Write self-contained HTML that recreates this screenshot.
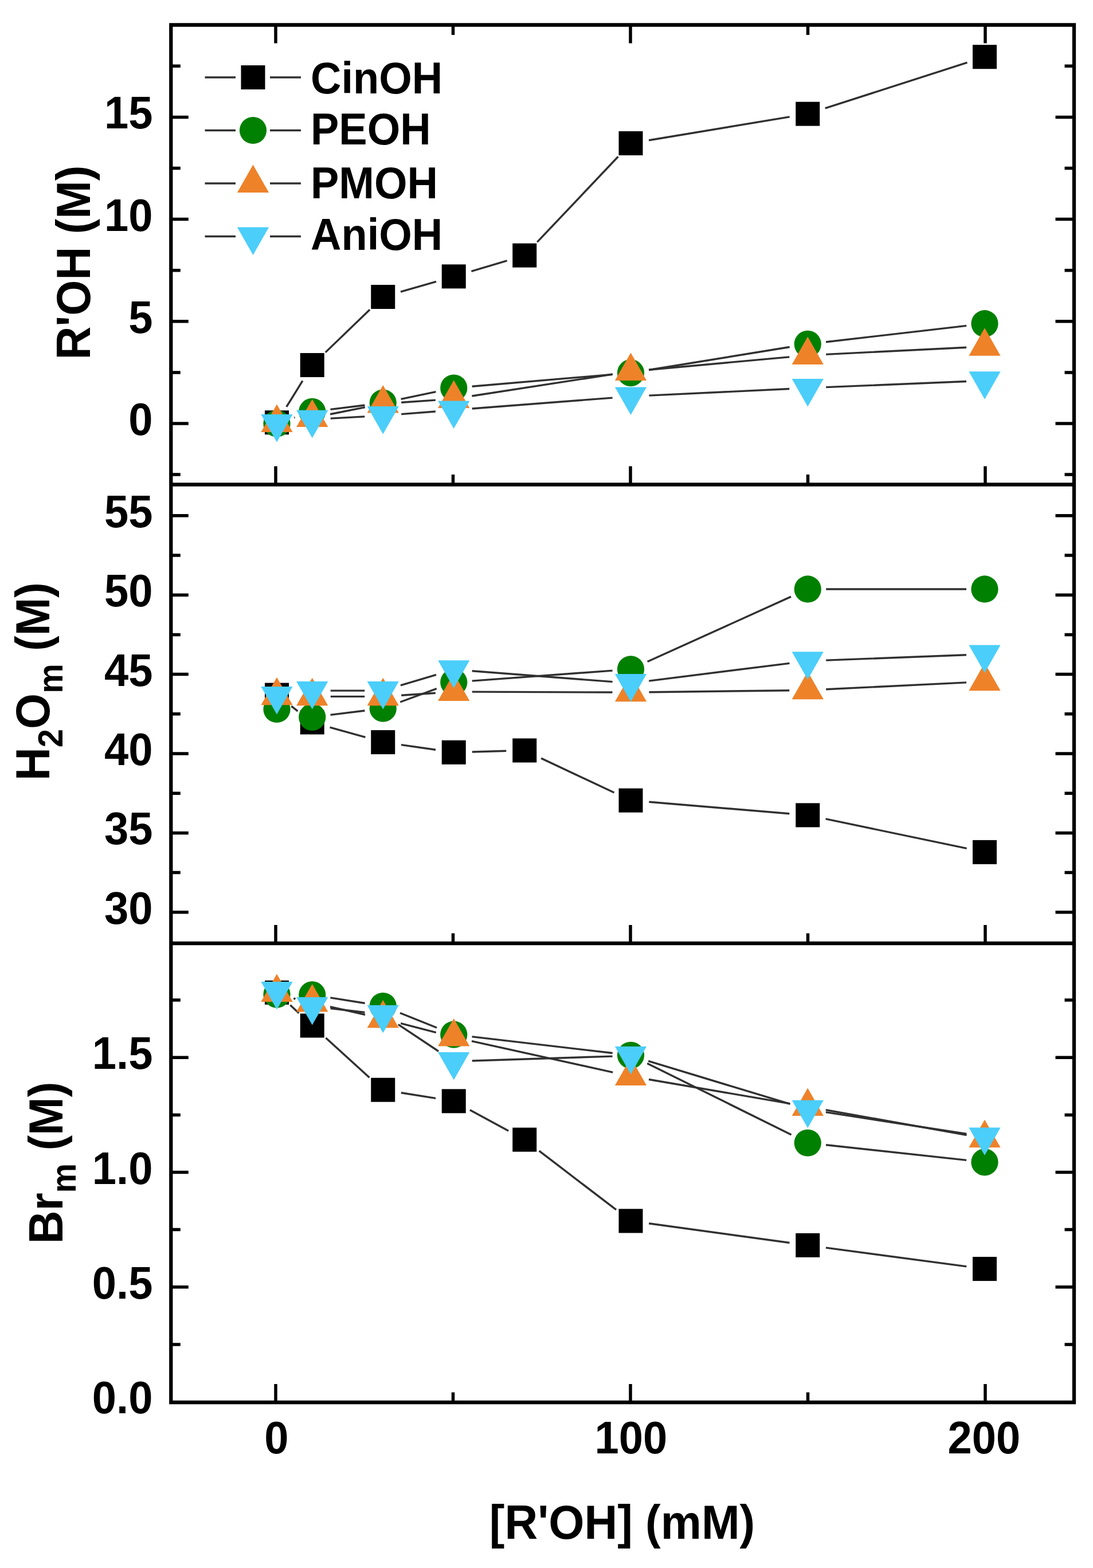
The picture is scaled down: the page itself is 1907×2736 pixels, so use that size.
<!DOCTYPE html>
<html><head><meta charset="utf-8"><title>R'OH plot</title>
<style>html,body{margin:0;padding:0;background:#fff;}svg{display:block;}text{font-family:'Liberation Sans', Arial, sans-serif;font-weight:bold;fill:#000;}</style>
</head><body>
<svg width="1907" height="2736" viewBox="0 0 1907 2736">
<rect width="1907" height="2736" fill="#fff"/>
<path d="M499.79 709.98L527.96 664.31M567.79 614.86L645.21 540.24M699 509.16L761 491.26M822.42 473.27L884.58 454.8M937.25 422.45L1078.5 273.26M1132.07 244.77L1377.68 203.94M1439.71 188.89L1687.54 109.07" stroke="#303030" stroke-width="3.4" fill="none"/>
<rect x="462" y="716.22" width="42" height="42" fill="#000000"/>
<rect x="523.75" y="616.07" width="42" height="42" fill="#000000"/>
<rect x="647.25" y="497.03" width="42" height="42" fill="#000000"/>
<rect x="770.75" y="461.39" width="42" height="42" fill="#000000"/>
<rect x="894.25" y="424.68" width="42" height="42" fill="#000000"/>
<rect x="1079.5" y="229.02" width="42" height="42" fill="#000000"/>
<rect x="1388.25" y="177.7" width="42" height="42" fill="#000000"/>
<rect x="1697" y="78.26" width="42" height="42" fill="#000000"/>
<path d="M513.34 728.84L514.41 728.49M576.51 714.39L636.49 706.94M699.56 696.41L760.44 683.58M823.63 674.26L1068.62 653.34M1132.08 645.47L1377.67 605.5M1441.04 596.69L1686.21 568.39" stroke="#303030" stroke-width="3.4" fill="none"/>
<circle cx="483" cy="739" r="23.6" fill="#008000"/>
<circle cx="544.75" cy="718.33" r="23.6" fill="#008000"/>
<circle cx="668.25" cy="703" r="23.6" fill="#008000"/>
<circle cx="791.75" cy="676.99" r="23.6" fill="#008000"/>
<circle cx="1100.5" cy="650.61" r="23.6" fill="#008000"/>
<circle cx="1409.25" cy="600.36" r="23.6" fill="#008000"/>
<circle cx="1718" cy="564.72" r="23.6" fill="#008000"/>
<path d="M576.13 722.77L636.87 710.68M700.17 702.22L759.83 698.09M823.37 690.98L1068.88 653.01M1132.37 645.21L1377.38 622.87M1441.21 618.38L1686.04 606.22" stroke="#303030" stroke-width="3.4" fill="none"/>
<polygon points="483,705.43 510.6,753.93 455.4,753.93" fill="#EE8229"/>
<polygon points="544.75,696.52 572.35,745.02 517.15,745.02" fill="#EE8229"/>
<polygon points="668.25,671.93 695.85,720.43 640.65,720.43" fill="#EE8229"/>
<polygon points="791.75,663.38 819.35,711.88 764.15,711.88" fill="#EE8229"/>
<polygon points="1100.5,615.62 1128.1,664.12 1072.9,664.12" fill="#EE8229"/>
<polygon points="1409.25,587.46 1436.85,635.96 1381.65,635.96" fill="#EE8229"/>
<polygon points="1718,572.14 1745.6,620.64 1690.4,620.64" fill="#EE8229"/>
<path d="M576.7 730.12L636.3 726.85M700.15 722.61L759.85 717.96M823.65 713.01L1068.6 694.07M1132.46 690.09L1377.29 678.5M1441.22 675.66L1686.03 665.48" stroke="#303030" stroke-width="3.4" fill="none"/>
<polygon points="455.4,723 510.6,723 483,771.5" fill="#4BCEFA"/>
<polygon points="517.15,715.87 572.35,715.87 544.75,764.37" fill="#4BCEFA"/>
<polygon points="640.65,709.1 695.85,709.1 668.25,757.6" fill="#4BCEFA"/>
<polygon points="764.15,699.48 819.35,699.48 791.75,747.98" fill="#4BCEFA"/>
<polygon points="1072.9,675.6 1128.1,675.6 1100.5,724.1" fill="#4BCEFA"/>
<polygon points="1381.65,660.99 1436.85,660.99 1409.25,709.49" fill="#4BCEFA"/>
<polygon points="1690.4,648.16 1745.6,648.16 1718,696.66" fill="#4BCEFA"/>
<path d="M508.29 1232.19L519.46 1240.86M575.56 1269.1L637.44 1286.44M699.93 1299.61L760.07 1308.24M823.74 1311.93L883.26 1310.32M944.2 1323.09L1071.55 1383.03M1132.39 1399.31L1377.36 1419.74M1440.57 1428.94L1686.68 1480.35" stroke="#303030" stroke-width="3.4" fill="none"/>
<rect x="462" y="1191.58" width="42" height="42" fill="#000000"/>
<rect x="523.75" y="1239.47" width="42" height="42" fill="#000000"/>
<rect x="647.25" y="1274.07" width="42" height="42" fill="#000000"/>
<rect x="770.75" y="1291.79" width="42" height="42" fill="#000000"/>
<rect x="894.25" y="1288.46" width="42" height="42" fill="#000000"/>
<rect x="1079.5" y="1375.66" width="42" height="42" fill="#000000"/>
<rect x="1388.25" y="1401.4" width="42" height="42" fill="#000000"/>
<rect x="1697" y="1465.89" width="42" height="42" fill="#000000"/>
<path d="M576.51 1247.42L636.49 1240.03M698.26 1225.01L761.74 1201.54M823.66 1188.09L1068.59 1170.09M1129.65 1154.54L1380.1 1041.16M1441.25 1027.96L1686 1027.96" stroke="#303030" stroke-width="3.4" fill="none"/>
<circle cx="483" cy="1237.5" r="23.6" fill="#008000"/>
<circle cx="544.75" cy="1251.34" r="23.6" fill="#008000"/>
<circle cx="668.25" cy="1236.11" r="23.6" fill="#008000"/>
<circle cx="791.75" cy="1190.44" r="23.6" fill="#008000"/>
<circle cx="1100.5" cy="1167.74" r="23.6" fill="#008000"/>
<circle cx="1409.25" cy="1027.96" r="23.6" fill="#008000"/>
<circle cx="1718" cy="1027.96" r="23.6" fill="#008000"/>
<path d="M576.75 1215.35L636.25 1215.35M700.18 1213.21L759.82 1209.19M823.75 1207.16L1068.5 1208.04M1132.5 1207.75L1377.25 1204.68M1441.21 1202.73L1686.04 1190.88" stroke="#303030" stroke-width="3.4" fill="none"/>
<polygon points="483,1181.74 510.6,1230.24 455.4,1230.24" fill="#EE8229"/>
<polygon points="544.75,1182.85 572.35,1231.35 517.15,1231.35" fill="#EE8229"/>
<polygon points="668.25,1182.85 695.85,1231.35 640.65,1231.35" fill="#EE8229"/>
<polygon points="791.75,1174.55 819.35,1223.05 764.15,1223.05" fill="#EE8229"/>
<polygon points="1100.5,1175.66 1128.1,1224.16 1072.9,1224.16" fill="#EE8229"/>
<polygon points="1409.25,1171.78 1436.85,1220.28 1381.65,1220.28" fill="#EE8229"/>
<polygon points="1718,1156.83 1745.6,1205.33 1690.4,1205.33" fill="#EE8229"/>
<path d="M576.75 1205.11L636.25 1205.11M698.92 1195.97L761.08 1177.44M823.66 1170.76L1068.59 1189.64M1132.25 1188.12L1377.5 1157.33M1441.23 1152.12L1686.02 1142.68" stroke="#303030" stroke-width="3.4" fill="none"/>
<polygon points="455.4,1197.97 510.6,1197.97 483,1246.47" fill="#4BCEFA"/>
<polygon points="517.15,1189.11 572.35,1189.11 544.75,1237.61" fill="#4BCEFA"/>
<polygon points="640.65,1189.11 695.85,1189.11 668.25,1237.61" fill="#4BCEFA"/>
<polygon points="764.15,1152.3 819.35,1152.3 791.75,1200.8" fill="#4BCEFA"/>
<polygon points="1072.9,1176.1 1128.1,1176.1 1100.5,1224.6" fill="#4BCEFA"/>
<polygon points="1381.65,1137.35 1436.85,1137.35 1409.25,1185.85" fill="#4BCEFA"/>
<polygon points="1690.4,1125.45 1745.6,1125.45 1718,1173.95" fill="#4BCEFA"/>
<path d="M506.39 1753.75L521.36 1767.74M568.44 1811.09L644.56 1880.21M699.85 1906.74L760.15 1916.32M819.85 1936.65L887.15 1973.32M940.66 2008.08L1075.09 2110.96M1132.2 2134.76L1377.55 2168.5M1440.97 2177.1L1686.28 2209.87" stroke="#303030" stroke-width="3.4" fill="none"/>
<rect x="462" y="1710.91" width="42" height="42" fill="#000000"/>
<rect x="523.75" y="1768.58" width="42" height="42" fill="#000000"/>
<rect x="647.25" y="1880.72" width="42" height="42" fill="#000000"/>
<rect x="770.75" y="1900.35" width="42" height="42" fill="#000000"/>
<rect x="894.25" y="1967.63" width="42" height="42" fill="#000000"/>
<rect x="1079.5" y="2109.41" width="42" height="42" fill="#000000"/>
<rect x="1388.25" y="2151.86" width="42" height="42" fill="#000000"/>
<rect x="1697" y="2193.11" width="42" height="42" fill="#000000"/>
<path d="M576.35 1740.94L636.65 1750.52M697.94 1767.48L762.06 1793.26M823.53 1808.91L1068.72 1837.53M1129.17 1855.45L1380.58 1980.03M1441.06 1997.7L1686.19 2024.41" stroke="#303030" stroke-width="3.4" fill="none"/>
<circle cx="483" cy="1735.11" r="23.6" fill="#008000"/>
<circle cx="544.75" cy="1735.91" r="23.6" fill="#008000"/>
<circle cx="668.25" cy="1755.54" r="23.6" fill="#008000"/>
<circle cx="791.75" cy="1805.2" r="23.6" fill="#008000"/>
<circle cx="1100.5" cy="1841.24" r="23.6" fill="#008000"/>
<circle cx="1409.25" cy="1994.24" r="23.6" fill="#008000"/>
<circle cx="1718" cy="2027.88" r="23.6" fill="#008000"/>
<path d="M575.96 1756.61L637.04 1770.48M699.22 1785.6L760.78 1801.57M822.99 1816.54L1069.26 1871.16M1132.04 1883.49L1377.71 1925.56M1440.75 1936.6L1686.5 1980.59" stroke="#303030" stroke-width="3.4" fill="none"/>
<polygon points="483,1699.41 510.6,1747.91 455.4,1747.91" fill="#EE8229"/>
<polygon points="544.75,1717.03 572.35,1765.53 517.15,1765.53" fill="#EE8229"/>
<polygon points="668.25,1745.07 695.85,1793.57 640.65,1793.57" fill="#EE8229"/>
<polygon points="791.75,1777.11 819.35,1825.61 764.15,1825.61" fill="#EE8229"/>
<polygon points="1100.5,1845.59 1128.1,1894.09 1072.9,1894.09" fill="#EE8229"/>
<polygon points="1409.25,1898.46 1436.85,1946.96 1381.65,1946.96" fill="#EE8229"/>
<polygon points="1718,1953.73 1745.6,2002.23 1690.4,2002.23" fill="#EE8229"/>
<path d="M512.35 1741.86L515.4 1743.18M576.55 1759.55L636.45 1766.35M694.9 1787.67L765.1 1834.34M823.73 1851.02L1068.52 1843.08M1131.12 1851.34L1378.63 1926.47M1440.88 1940.64L1686.37 1978.54" stroke="#303030" stroke-width="3.4" fill="none"/>
<polygon points="455.4,1713.11 510.6,1713.11 483,1761.61" fill="#4BCEFA"/>
<polygon points="517.15,1739.94 572.35,1739.94 544.75,1788.44" fill="#4BCEFA"/>
<polygon points="640.65,1753.96 695.85,1753.96 668.25,1802.46" fill="#4BCEFA"/>
<polygon points="764.15,1836.06 819.35,1836.06 791.75,1884.56" fill="#4BCEFA"/>
<polygon points="1072.9,1826.05 1128.1,1826.05 1100.5,1874.55" fill="#4BCEFA"/>
<polygon points="1381.65,1919.76 1436.85,1919.76 1409.25,1968.26" fill="#4BCEFA"/>
<polygon points="1690.4,1967.42 1745.6,1967.42 1718,2015.92" fill="#4BCEFA"/>
<path d="M298.3 828.1H314.8M1874 828.1H1857.5M298.3 739H328.8M1874 739H1841.5M298.3 649.9H314.8M1874 649.9H1857.5M298.3 560.8H328.8M1874 560.8H1841.5M298.3 471.7H314.8M1874 471.7H1857.5M298.3 382.6H328.8M1874 382.6H1841.5M298.3 293.5H314.8M1874 293.5H1857.5M298.3 204.4H328.8M1874 204.4H1841.5M298.3 115.3H314.8M1874 115.3H1857.5M298.3 1591.8H328.8M1874 1591.8H1841.5M298.3 1522.6H314.8M1874 1522.6H1857.5M298.3 1453.4H328.8M1874 1453.4H1841.5M298.3 1384.2H314.8M1874 1384.2H1857.5M298.3 1315H328.8M1874 1315H1841.5M298.3 1245.8H314.8M1874 1245.8H1857.5M298.3 1176.6H328.8M1874 1176.6H1841.5M298.3 1107.4H314.8M1874 1107.4H1857.5M298.3 1038.2H328.8M1874 1038.2H1841.5M298.3 969H314.8M1874 969H1857.5M298.3 899.8H328.8M1874 899.8H1841.5M298.3 2345.88H314.8M1874 2345.88H1857.5M298.3 2245.75H328.8M1874 2245.75H1841.5M298.3 2145.62H314.8M1874 2145.62H1857.5M298.3 2045.5H328.8M1874 2045.5H1841.5M298.3 1945.38H314.8M1874 1945.38H1857.5M298.3 1845.25H328.8M1874 1845.25H1841.5M298.3 1745.12H314.8M1874 1745.12H1857.5M481 43.5V75.5M481 845.5V813.5M481 1646V1614M481 2447V2415M790.5 43.5V61M790.5 845.5V828M790.5 1646V1628.5M790.5 2447V2429.5M1100 43.5V75.5M1100 845.5V813.5M1100 1646V1614M1100 2447V2415M1409.5 43.5V61M1409.5 845.5V828M1409.5 1646V1628.5M1409.5 2447V2429.5M1719 43.5V75.5M1719 845.5V813.5M1719 1646V1614M1719 2447V2415" stroke="#000" stroke-width="5.5" fill="none"/>
<path d="M298.3 43.5H1874V2447H298.3Z M298.3 845.5H1874 M298.3 1646H1874" stroke="#000" stroke-width="6.3" fill="none" stroke-linejoin="miter" stroke-linecap="square"/>
<text transform="translate(266.5,759) scale(1,1.04)" font-size="76" text-anchor="end">0</text>
<text transform="translate(266.5,580.8) scale(1,1.04)" font-size="76" text-anchor="end">5</text>
<text transform="translate(266.5,402.6) scale(1,1.04)" font-size="76" text-anchor="end">10</text>
<text transform="translate(266.5,224.4) scale(1,1.04)" font-size="76" text-anchor="end">15</text>
<text transform="translate(266.5,1611.8) scale(1,1.04)" font-size="76" text-anchor="end">30</text>
<text transform="translate(266.5,1473.4) scale(1,1.04)" font-size="76" text-anchor="end">35</text>
<text transform="translate(266.5,1335) scale(1,1.04)" font-size="76" text-anchor="end">40</text>
<text transform="translate(266.5,1196.6) scale(1,1.04)" font-size="76" text-anchor="end">45</text>
<text transform="translate(266.5,1058.2) scale(1,1.04)" font-size="76" text-anchor="end">50</text>
<text transform="translate(266.5,919.8) scale(1,1.04)" font-size="76" text-anchor="end">55</text>
<text transform="translate(266.5,2466) scale(1,1.04)" font-size="76" text-anchor="end">0.0</text>
<text transform="translate(266.5,2265.75) scale(1,1.04)" font-size="76" text-anchor="end">0.5</text>
<text transform="translate(266.5,2065.5) scale(1,1.04)" font-size="76" text-anchor="end">1.0</text>
<text transform="translate(266.5,1865.25) scale(1,1.04)" font-size="76" text-anchor="end">1.5</text>
<text transform="translate(482.5,2535.5) scale(1,1.04)" font-size="76" text-anchor="middle">0</text>
<text transform="translate(1101,2535.5) scale(1,1.04)" font-size="76" text-anchor="middle">100</text>
<text transform="translate(1717,2535.5) scale(1,1.04)" font-size="76" text-anchor="middle">200</text>
<text transform="translate(1085.5,2684.5) scale(1,1.04)" font-size="80" text-anchor="middle">[R'OH] (mM)</text>
<text transform="translate(156.6,458) rotate(-90) scale(1,1.04)" font-size="80" text-anchor="middle">R'OH (M)</text>
<text transform="translate(86,1189) rotate(-90) scale(1,1.04)" font-size="80" text-anchor="middle">H<tspan font-size="58" dy="22">2</tspan><tspan dy="-22">O</tspan><tspan font-size="58" dy="22">m</tspan><tspan dy="-22"> (M)</tspan></text>
<text transform="translate(109,2029) rotate(-90) scale(1,1.04)" font-size="80" text-anchor="middle">Br<tspan font-size="58" dy="22">m</tspan><tspan dy="-22"> (M)</tspan></text>
<path d="M357.5 135H411M471 135H525M357.5 227.5H411M471 227.5H525M357.5 320H411M471 320H525M357.5 412.5H411M471 412.5H525" stroke="#303030" stroke-width="3.4" fill="none"/>
<rect x="420.5" y="114" width="42" height="42" fill="#000000"/>
<text transform="translate(542,163) scale(1,1.04)" font-size="74">CinOH</text>
<circle cx="441.5" cy="227.5" r="23.6" fill="#008000"/>
<text transform="translate(542,252) scale(1,1.04)" font-size="74">PEOH</text>
<polygon points="441.5,287.5 469.1,336 413.9,336" fill="#EE8229"/>
<text transform="translate(542,345.5) scale(1,1.04)" font-size="74">PMOH</text>
<polygon points="413.9,396.5 469.1,396.5 441.5,445" fill="#4BCEFA"/>
<text transform="translate(542,436) scale(1,1.04)" font-size="74">AniOH</text>
</svg>
</body></html>
